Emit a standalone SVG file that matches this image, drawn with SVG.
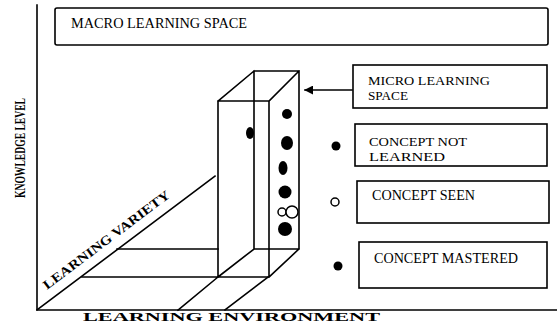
<svg xmlns="http://www.w3.org/2000/svg" width="557" height="333" viewBox="0 0 557 333">
<defs>
<style>
.ln{stroke:#000;stroke-width:1.6;fill:none;stroke-linecap:square}
.bx{stroke:#000;stroke-width:1.6;fill:#fff}
.t{font-family:"Liberation Serif","Times New Roman",serif;font-size:14.5px;fill:#000}
.t2{font-family:"Liberation Serif","Times New Roman",serif;font-size:13px;fill:#000}
.tb{font-family:"Liberation Serif","Times New Roman",serif;font-size:13px;font-weight:bold;fill:#000}
.dot{fill:#000}
.ring{fill:#fff;stroke:#000;stroke-width:1.5}
</style>
<marker id="ah" viewBox="0 0 10 10" refX="9" refY="5" markerWidth="9" markerHeight="9" markerUnits="userSpaceOnUse" orient="auto">
<path d="M0,0 L10,5 L0,10 Z" fill="#000"/>
</marker>
</defs>
<rect width="557" height="333" fill="#fff"/>

<g id="axes">
<path class="ln" d="M37,5 V310 H557"/>
<path class="ln" d="M37,310 L215,176"/>
<text class="tb" style="font-size:15px" transform="translate(25,198) rotate(-90)" textLength="100" lengthAdjust="spacingAndGlyphs">KNOWLEDGE LEVEL</text>
<text class="tb" x="83" y="321" textLength="297" lengthAdjust="spacingAndGlyphs">LEARNING ENVIRONMENT</text>
<text class="tb" transform="translate(47,290) rotate(-37)" textLength="155" lengthAdjust="spacingAndGlyphs">LEARNING VARIETY</text>
</g>

<g id="macro">
<rect class="bx" x="55" y="8" width="493" height="37" rx="2"/>
<text class="t" x="71" y="28" textLength="176" lengthAdjust="spacingAndGlyphs">MACRO LEARNING SPACE</text>
</g>

<g id="micro-space">
<path class="ln" d="M218,101 H269 M254,71 H299 M218,101 L254,71 M269,101 L299,71 M218,101 V277 M269,101 V277 M299,71 V249 M254,71 V249 M254,249 H299 M218,277 H269 M254,249 L218,277 M299,249 L269,277"/>
<ellipse class="dot" cx="250" cy="133" rx="4" ry="6"/>
<circle class="dot" cx="287" cy="114" r="5"/>
<ellipse class="dot" cx="287" cy="143" rx="6" ry="7"/>
<ellipse class="dot" cx="283" cy="168" rx="4.5" ry="7"/>
<circle class="dot" cx="285" cy="192" r="6.5"/>
<circle class="ring" cx="282" cy="212" r="4"/>
<circle class="ring" cx="292" cy="212" r="6"/>
<circle class="dot" cx="285" cy="229" r="7"/>
</g>

<g id="floor">
<path class="ln" d="M117,249 H218 M82,277 H218 M178,310 L218,277 M225,310 L268,277"/>
</g>

<g id="connectors">
<line class="ln" x1="352" y1="90" x2="305" y2="90" marker-end="url(#ah)"/>
</g>

<g id="micro-label">
<rect class="bx" x="353" y="65" width="194" height="43"/>
<text class="t2" x="368" y="85" textLength="122" lengthAdjust="spacingAndGlyphs">MICRO LEARNING</text>
<text class="t2" x="368" y="100" textLength="40" lengthAdjust="spacingAndGlyphs">SPACE</text>
</g>

<g id="legend-not-learned">
<circle class="dot" cx="336" cy="146" r="4.5"/>
<rect class="bx" x="355" y="124" width="192" height="42"/>
<text class="t2" x="369" y="146" textLength="98" lengthAdjust="spacingAndGlyphs">CONCEPT NOT</text>
<text class="t2" x="369" y="161" textLength="76" lengthAdjust="spacingAndGlyphs">LEARNED</text>
</g>

<g id="legend-seen">
<circle class="ring" cx="335" cy="202" r="4"/>
<rect class="bx" x="357" y="181" width="192" height="42"/>
<text class="t" x="372" y="200" textLength="103" lengthAdjust="spacingAndGlyphs">CONCEPT SEEN</text>
</g>

<g id="legend-mastered">
<circle class="dot" cx="338" cy="266" r="4.5"/>
<rect class="bx" x="359" y="242" width="188" height="46"/>
<text class="t" x="374" y="263" textLength="144" lengthAdjust="spacingAndGlyphs">CONCEPT MASTERED</text>
</g>
</svg>
